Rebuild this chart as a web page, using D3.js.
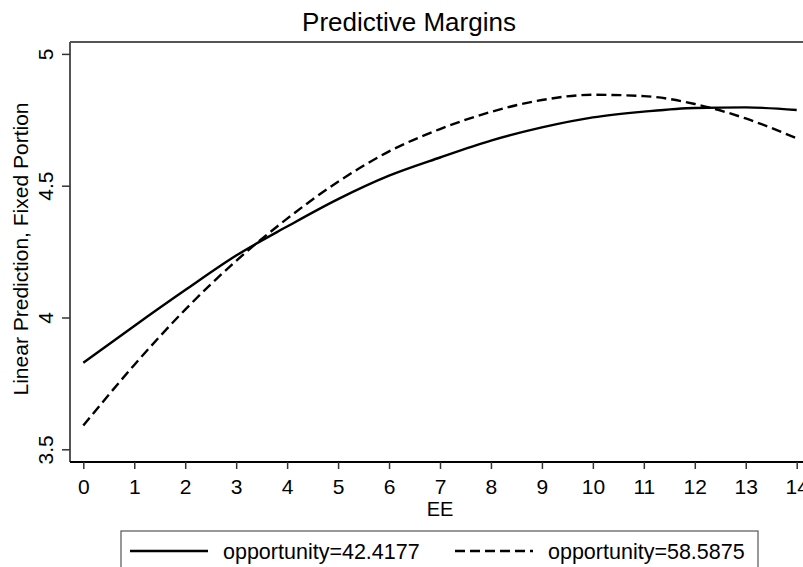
<!DOCTYPE html>
<html>
<head>
<meta charset="utf-8">
<script src="https://cdn.jsdelivr.net/npm/d3@7"></script>
<style>
  body { margin: 0; background: #fff; }
  text { font-family: "Liberation Sans", Arial, sans-serif; fill: #000; }
</style>
</head>
<body>
<script>
// values
var eeValues = [0, 1, 2, 3, 4, 5, 6, 7, 8, 9, 10, 11, 12, 13, 14];
var lowOpportunity = [3.828, 3.968, 4.104, 4.235, 4.345, 4.449, 4.538, 4.607, 4.671, 4.721, 4.759, 4.781, 4.795, 4.797, 4.787];
var highOpportunity = [3.59, 3.82, 4.03, 4.215, 4.375, 4.515, 4.63, 4.715, 4.78, 4.825, 4.845, 4.84, 4.81, 4.755, 4.68];
var seriesNames = ["opportunity=42.4177", "opportunity=58.5875"];
var yTicks = [3.5, 4, 4.5, 5];

var W = 803, H = 567;

var svg = d3.select("body").append("svg")
    .attr("width", W)
    .attr("height", H);

var x = d3.scaleLinear().domain([0, 14]).range([83.3, 796.7]);
var y = d3.scaleLinear().domain([3.5, 5]).range([449.3, 53.9]);

// plot region frame (top + left, grey)
svg.append("line")
    .attr("x1", 70).attr("x2", W).attr("y1", 42).attr("y2", 42)
    .attr("stroke", "#555").attr("stroke-width", 2);

// title
svg.append("text")
    .attr("x", 409).attr("y", 31)
    .attr("text-anchor", "middle")
    .style("font-size", "26px")
    .text("Predictive Margins");

// y axis
var yAxis = svg.append("g")
    .attr("transform", "translate(70,0)")
    .call(d3.axisLeft(y).tickValues(yTicks).tickSize(8).tickFormat(d3.format("")));
yAxis.select(".domain").attr("d", "M0,42V462").attr("stroke", "#555").attr("stroke-width", 2);
yAxis.selectAll(".tick line").attr("stroke", "#333").attr("stroke-width", 1.5);
yAxis.selectAll(".tick text")
    .attr("x", null).attr("dy", null)
    .attr("transform", "translate(-17,0) rotate(-90)")
    .attr("text-anchor", "middle")
    .style("font-size", "21px")
    .style("font-family", "Liberation Sans, Arial, sans-serif");

svg.append("text")
    .attr("transform", "translate(28,249) rotate(-90)")
    .attr("text-anchor", "middle")
    .style("font-size", "21px")
    .text("Linear Prediction, Fixed Portion");

// x axis
var xAxis = svg.append("g")
    .attr("transform", "translate(0,462)")
    .call(d3.axisBottom(x).tickValues(eeValues).tickSize(7).tickFormat(d3.format("d")));
xAxis.select(".domain").attr("d", "M70,0H" + W).attr("stroke", "#000").attr("stroke-width", 2);
xAxis.selectAll(".tick line").attr("stroke", "#333").attr("stroke-width", 1.5);
xAxis.selectAll(".tick text")
    .attr("y", 32).attr("dy", null)
    .style("font-size", "21px")
    .style("font-family", "Liberation Sans, Arial, sans-serif");

svg.append("text")
    .attr("x", 440).attr("y", 516)
    .attr("text-anchor", "middle")
    .style("font-size", "20px")
    .text("EE");

// lines
var line = d3.line()
    .x(function(d, i) { return x(eeValues[i]); })
    .y(function(d) { return y(d); })
    .curve(d3.curveMonotoneX);

svg.append("path")
    .datum(lowOpportunity)
    .attr("d", line)
    .attr("fill", "none")
    .attr("stroke", "#000")
    .attr("stroke-width", 2.4);

svg.append("path")
    .datum(highOpportunity)
    .attr("d", line)
    .attr("fill", "none")
    .attr("stroke", "#000")
    .attr("stroke-width", 2.4)
    .attr("stroke-dasharray", "10,5");

// legend
var legend = svg.append("g");
legend.append("rect")
    .attr("x", 121).attr("y", 531)
    .attr("width", 637).attr("height", 50)
    .attr("fill", "#fff")
    .attr("stroke", "#555")
    .attr("stroke-width", 1.2);

var legendItems = [
  { name: seriesNames[0], x0: 130, dash: null },
  { name: seriesNames[1], x0: 455, dash: "10,5" }
];
legendItems.forEach(function(it) {
  legend.append("line")
      .attr("x1", it.x0).attr("x2", it.x0 + 78)
      .attr("y1", 551).attr("y2", 551)
      .attr("stroke", "#000").attr("stroke-width", 2.4)
      .attr("stroke-dasharray", it.dash);
  legend.append("text")
      .attr("x", it.x0 + 93).attr("y", 559)
      .style("font-size", "21.5px")
      .text(it.name);
});
</script>
</body>
</html>
